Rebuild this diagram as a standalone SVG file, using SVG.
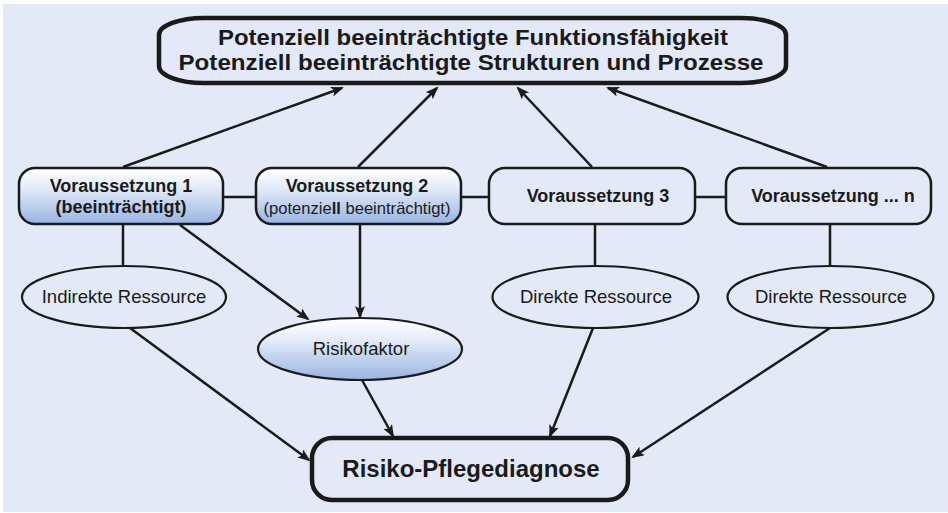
<svg xmlns="http://www.w3.org/2000/svg" width="948" height="513" viewBox="0 0 948 513">
  <style>
    .bg { fill: #E3E9F6; }
    .big { fill: none; stroke: #1a1a1a; stroke-width: 4.5; }
    .box { fill: none; stroke: #1a1a1a; stroke-width: 2.5; }
    .boxg { fill: url(#grad); stroke: #1a1a1a; stroke-width: 2.5; }
    .ell { fill: none; stroke: #1a1a1a; stroke-width: 2.2; }
    .ellg { fill: url(#grad); stroke: #1a1a1a; stroke-width: 2.2; }
    .line { stroke: #1a1a1a; stroke-width: 2.5; fill: none; }
    .arrow { stroke: #1a1a1a; stroke-width: 2.5; fill: none; marker-end: url(#ah); }
    text { font-family: "Liberation Sans", Arial, sans-serif; fill: #1a1a1a; text-anchor: middle; }
    .tt { font-size: 22px; font-weight: bold; }
    .tb { font-size: 24px; font-weight: bold; }
    .nb { font-size: 18px; font-weight: bold; }
    .lr { font-size: 18.5px; }
  </style>
  <defs>
    <linearGradient id="grad" x1="0" y1="0" x2="0" y2="1">
      <stop offset="0" stop-color="#ffffff"/>
      <stop offset="0.35" stop-color="#e4ecf9"/>
      <stop offset="1" stop-color="#98b4e2"/>
    </linearGradient>
    <marker id="ah" markerUnits="userSpaceOnUse" markerWidth="14" markerHeight="12" refX="11" refY="5" orient="auto">
      <path d="M0,0 L13,5 L0,10 L3,5 z" fill="#1a1a1a"/>
    </marker>
  </defs>

  <rect x="0" y="0" width="948" height="513" fill="#ffffff"/>
  <rect class="bg" x="3" y="4" width="945" height="508"/>

  <g id="connectors">
    <line class="arrow" x1="123" y1="167" x2="342" y2="88"/>
    <line class="arrow" x1="358" y1="167" x2="437" y2="88"/>
    <line class="arrow" x1="592" y1="167" x2="518" y2="88"/>
    <line class="arrow" x1="827" y1="167" x2="608" y2="88"/>
    <line class="line" x1="223" y1="197" x2="256" y2="197"/>
    <line class="line" x1="461" y1="197" x2="489" y2="197"/>
    <line class="line" x1="695" y1="197" x2="726" y2="197"/>
    <line class="line" x1="123" y1="224" x2="123" y2="266"/>
    <line class="line" x1="595" y1="224" x2="595" y2="266"/>
    <line class="line" x1="830" y1="224" x2="830" y2="266"/>
    <line class="arrow" x1="180" y1="225" x2="308" y2="319"/>
    <line class="arrow" x1="360" y1="225" x2="360" y2="317"/>
    <line class="arrow" x1="130" y1="328" x2="309" y2="460"/>
    <line class="arrow" x1="362" y1="380" x2="393" y2="436"/>
    <line class="arrow" x1="593" y1="328" x2="550" y2="436"/>
    <line class="arrow" x1="830" y1="328" x2="633" y2="457"/>
  </g>

  <g id="top">
    <rect class="big" x="159" y="18" width="627" height="65" rx="45" ry="17"/>
    <text class="tt" x="473" y="45" textLength="510" lengthAdjust="spacingAndGlyphs">Potenziell beeinträchtigte Funktionsfähigkeit</text>
    <text class="tt" x="471" y="70" textLength="585" lengthAdjust="spacingAndGlyphs">Potenziell beeinträchtigte Strukturen und Prozesse</text>
  </g>

  <g id="v1">
    <rect class="boxg" x="19" y="168" width="204" height="56" rx="16"/>
    <text class="nb" x="121" y="192">Voraussetzung 1</text>
    <text class="nb" x="121" y="213">(beeinträchtigt)</text>
  </g>
  <g id="v2">
    <rect class="boxg" x="256" y="168" width="205" height="56" rx="16"/>
    <text class="nb" x="357" y="192">Voraussetzung 2</text>
    <text x="357" y="213.5" font-size="16.5" textLength="187" lengthAdjust="spacingAndGlyphs">(potenzie<tspan font-weight="bold">ll</tspan> beeinträchtigt)</text>
  </g>
  <g id="v3">
    <rect class="box" x="489" y="168" width="206" height="56" rx="16"/>
    <text class="nb" x="598" y="202">Voraussetzung 3</text>
  </g>
  <g id="vn">
    <rect class="box" x="726" y="168" width="205" height="56" rx="16"/>
    <text class="nb" x="833" y="202">Voraussetzung ... n</text>
  </g>

  <g id="indirekt">
    <ellipse class="ell" cx="124" cy="297" rx="102" ry="31"/>
    <text class="lr" x="124" y="303">Indirekte Ressource</text>
  </g>
  <g id="direkt1">
    <ellipse class="ell" cx="595.5" cy="297" rx="103" ry="31"/>
    <text class="lr" x="596" y="303">Direkte Ressource</text>
  </g>
  <g id="direkt2">
    <ellipse class="ell" cx="830.5" cy="297" rx="103" ry="31"/>
    <text class="lr" x="831" y="303">Direkte Ressource</text>
  </g>
  <g id="risikofaktor">
    <ellipse class="ellg" cx="360" cy="349" rx="102" ry="31"/>
    <text class="lr" x="361" y="355">Risikofaktor</text>
  </g>

  <g id="diagnose">
    <rect class="big" x="312" y="438" width="316" height="62" rx="20"/>
    <text class="tb" x="471" y="477">Risiko-Pflegediagnose</text>
  </g>
</svg>
